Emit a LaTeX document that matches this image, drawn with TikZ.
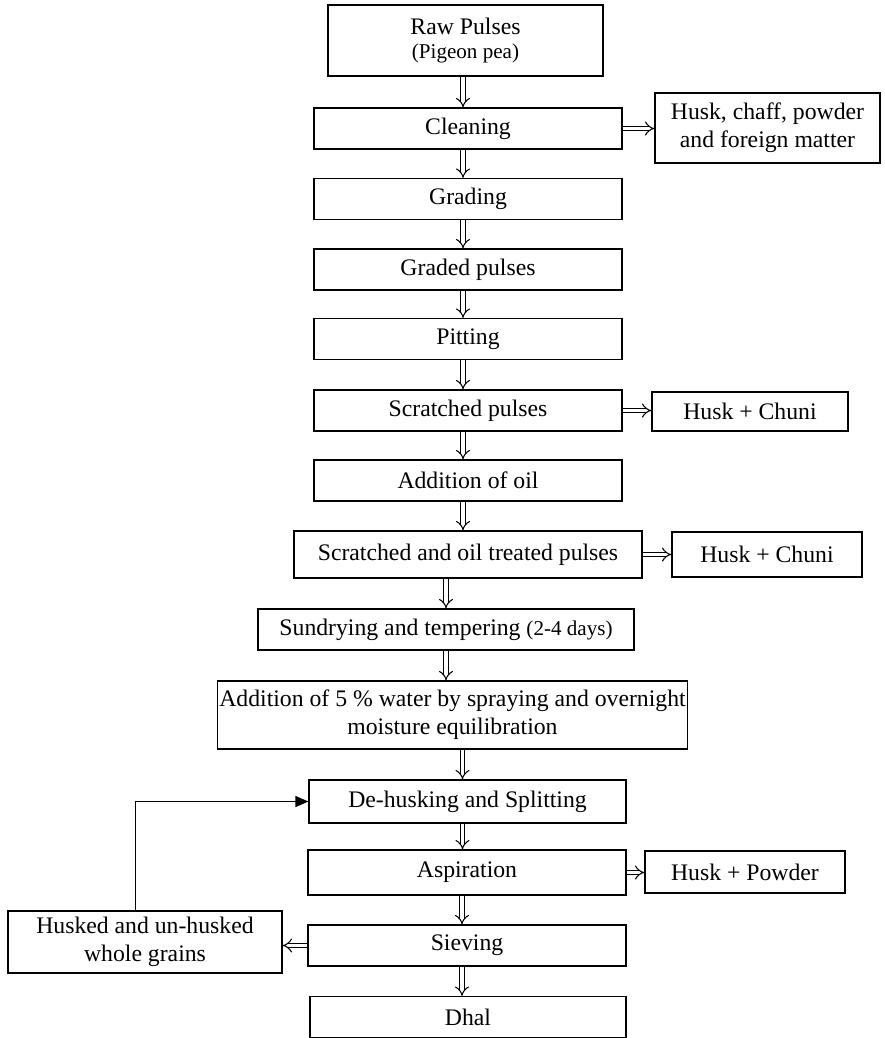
\documentclass[tikz,border=0pt]{standalone}
\usepackage{fontspec}
\setmainfont{Liberation Serif}
\usetikzlibrary{arrows.meta}

\begin{document}
\begin{tikzpicture}[x=0.02cm,y=-0.02cm]
\tikzset{
  procbox/.style={rectangle,draw=black,line width=0.7pt,inner sep=1pt,align=center,font=\fontsize{13.5}{16}\selectfont},
  sidebox/.style={procbox},
  flow/.style={draw=black,line width=0.6pt,double=white,double distance=2.2pt,-{Implies}},
  loopback/.style={draw=black,line width=0.7pt,-{Triangle[length=2.6mm,width=2.2mm]}}
}
\useasboundingbox (0,0) rectangle (885,1038);
\node[procbox,minimum width=5.5cm,minimum height=1.42cm] (n_raw) at (465.5,40.5) {Raw Pulses\\[-2pt]{\fontsize{12}{14}\selectfont(Pigeon pea)}};
\node[procbox,minimum width=6.16cm,minimum height=0.82cm] (n_clean) at (468,128.5) {Cleaning};
\node[sidebox,minimum width=4.5cm,minimum height=1.4cm] (n_foreign) at (767.5,128) {Husk, chaff, powder\\and foreign matter};
\node[procbox,minimum width=6.16cm,minimum height=0.82cm] (n_grading) at (468,199) {Grading};
\node[procbox,minimum width=6.16cm,minimum height=0.82cm] (n_graded) at (468,269.5) {Graded pulses};
\node[procbox,minimum width=6.16cm,minimum height=0.82cm] (n_pitting) at (468,339) {Pitting};
\node[procbox,minimum width=6.16cm,minimum height=0.82cm] (n_scratch) at (468,410.5) {Scratched pulses};
\node[sidebox,minimum width=3.92cm,minimum height=0.78cm] (n_chuniA) at (750,411.5) {Husk + Chuni};
\node[procbox,minimum width=6.16cm,minimum height=0.82cm] (n_oil) at (468,480.5) {Addition of oil};
\node[procbox,minimum width=6.96cm,minimum height=0.94cm] (n_oiled) at (468,554.5) {Scratched and oil treated pulses};
\node[sidebox,minimum width=3.8cm,minimum height=0.9cm] (n_chuniB) at (767,554.5) {Husk + Chuni};
\node[procbox,minimum width=7.52cm,minimum height=0.82cm] (n_sun) at (446,629.5) {Sundrying and tempering {\fontsize{12}{14}\selectfont(2-4 days)}};
\node[procbox,minimum width=8.78cm,minimum height=1.36cm] (n_water) at (452.5,715) {Addition of 5 \% water by spraying and overnight\\moisture equilibration};
\node[procbox,minimum width=6.34cm,minimum height=0.86cm] (n_dehusk) at (467.5,801.5) {De-husking and Splitting};
\node[procbox,minimum width=6.36cm,minimum height=0.9cm] (n_aspir) at (467,872.5) {Aspiration};
\node[sidebox,minimum width=4.0cm,minimum height=0.84cm] (n_powder) at (745,872) {Husk + Powder};
\node[procbox,minimum width=6.36cm,minimum height=0.82cm] (n_sieve) at (467,945.5) {Sieving};
\node[sidebox,minimum width=5.48cm,minimum height=1.24cm] (n_whole) at (145,942) {Husked and un-husked\\whole grains};
\node[procbox,minimum width=6.32cm,minimum height=0.82cm] (n_dhal) at (468,1017) {Dhal};
% main line
\draw[flow] ([xshift=-0.05cm]n_raw.south) -- ([xshift=-0.05cm]n_raw.south |- n_clean.north);
\draw[flow] ([xshift=-0.1cm]n_clean.south) -- ([xshift=-0.1cm]n_clean.south |- n_grading.north);
\draw[flow] ([xshift=-0.1cm]n_grading.south) -- ([xshift=-0.1cm]n_grading.south |- n_graded.north);
\draw[flow] ([xshift=-0.1cm]n_graded.south) -- ([xshift=-0.1cm]n_graded.south |- n_pitting.north);
\draw[flow] ([xshift=-0.1cm]n_pitting.south) -- ([xshift=-0.1cm]n_pitting.south |- n_scratch.north);
\draw[flow] ([xshift=-0.1cm]n_scratch.south) -- ([xshift=-0.1cm]n_scratch.south |- n_oil.north);
\draw[flow] ([xshift=-0.1cm]n_oil.south) -- ([xshift=-0.1cm]n_oil.south |- n_oiled.north);
\draw[flow] (n_sun.north |- n_oiled.south) -- (n_sun.north);
\draw[flow] (n_sun.south) -- (n_sun.south |- n_water.north);
\draw[flow] ([xshift=0.2cm]n_water.south) -- ([xshift=0.2cm]n_water.south |- n_dehusk.north);
\draw[flow] ([xshift=-0.1cm]n_dehusk.south) -- ([xshift=-0.1cm]n_dehusk.south |- n_aspir.north);
\draw[flow] ([xshift=-0.1cm]n_aspir.south) -- ([xshift=-0.1cm]n_aspir.south |- n_sieve.north);
\draw[flow] ([xshift=-0.1cm]n_sieve.south) -- ([xshift=-0.1cm]n_sieve.south |- n_dhal.north);
% side streams
\draw[flow] (n_clean.east) -- (n_clean.east -| n_foreign.west);
\draw[flow] (n_scratch.east) -- (n_scratch.east -| n_chuniA.west);
\draw[flow] (n_oiled.east) -- (n_oiled.east -| n_chuniB.west);
\draw[flow] (n_aspir.east) -- (n_aspir.east -| n_powder.west);
\draw[flow] (n_sieve.west) -- (n_sieve.west -| n_whole.east);
% recycle
\draw[loopback] ([xshift=-0.19cm]n_whole.north) |- (n_dehusk.west);
\end{tikzpicture}
\end{document}
